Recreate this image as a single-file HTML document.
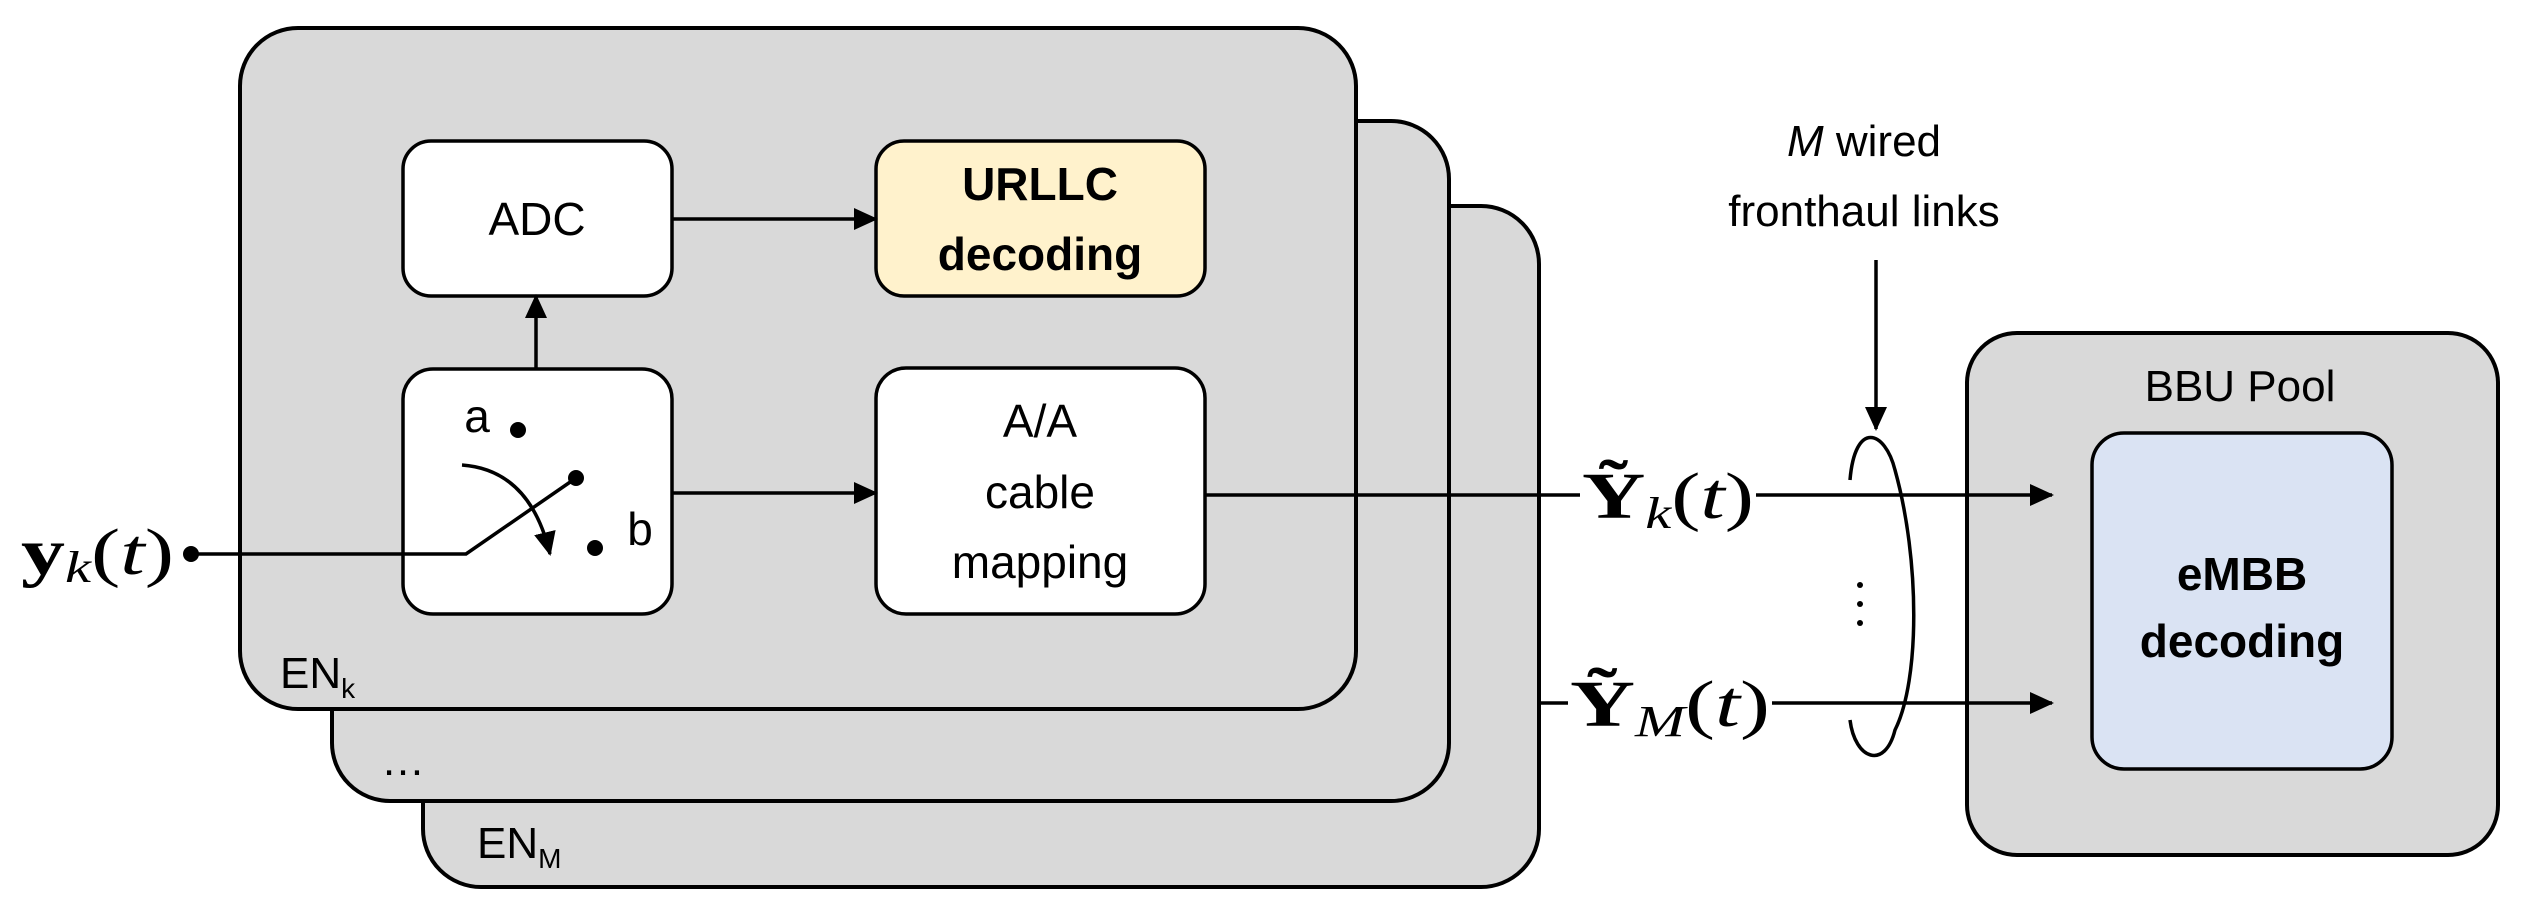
<!DOCTYPE html>
<html><head><meta charset="utf-8"><style>body{margin:0;background:#fff}svg{display:block}</style></head><body>
<svg width="2528" height="915" viewBox="0 0 2528 915" xmlns="http://www.w3.org/2000/svg" font-family="Liberation Sans, sans-serif">
<defs>
<marker id="a2" markerWidth="24" markerHeight="22" refX="22" refY="11" orient="auto" markerUnits="userSpaceOnUse"><path d="M0,0 L24,11 L0,22 z" fill="#000"/></marker></defs>
<g stroke="#000" stroke-width="4" fill="#d9d9d9">
<rect x="423" y="206" width="1116" height="681" rx="58"/>
<rect x="332" y="121" width="1117" height="680" rx="58"/>
<rect x="240" y="28" width="1116" height="681" rx="58"/>
<rect x="1967" y="333" width="531" height="522" rx="50"/>
</g>
<g stroke="#000" stroke-width="3.5">
<rect x="403" y="141" width="269" height="155" rx="28" fill="#fff"/>
<rect x="876" y="141" width="329" height="155" rx="28" fill="#fff2cc"/>
<rect x="403" y="369" width="269" height="245" rx="30" fill="#fff"/>
<rect x="876" y="368" width="329" height="246" rx="30" fill="#fff"/>
<rect x="2092" y="433" width="300" height="336" rx="32" fill="#dae3f3"/>
</g>
<g stroke="#000" stroke-width="3.5" fill="none">
<line x1="672" y1="219" x2="876" y2="219" marker-end="url(#a2)"/>
<line x1="672" y1="493" x2="876" y2="493" marker-end="url(#a2)"/>
<line x1="536" y1="369" x2="536" y2="296" marker-end="url(#a2)"/>
<polyline points="191,554 466,554 576,478"/>
<path d="M462,465 Q530,470 550,554" marker-end="url(#a2)"/>
<line x1="1205" y1="495" x2="1580" y2="495"/>
<line x1="1756" y1="495" x2="2052" y2="495" marker-end="url(#a2)"/>
<line x1="1539" y1="703" x2="1568" y2="703"/>
<line x1="1772" y1="703" x2="2052" y2="703" marker-end="url(#a2)"/>
<line x1="1876" y1="260" x2="1876" y2="429" marker-end="url(#a2)"/>
<path d="M1850,480 C1855,420 1885,430 1895,470 C1920,560 1920,680 1895,730 C1885,770 1855,760 1850,720"/>
</g>
<g fill="#000">
<circle cx="191" cy="554" r="8"/><circle cx="518" cy="430" r="8"/><circle cx="576" cy="478" r="8"/><circle cx="595" cy="548" r="8"/>
<circle cx="1860" cy="585" r="3"/><circle cx="1860" cy="604" r="3"/><circle cx="1860" cy="623" r="3"/>
</g>
<g font-size="46" text-anchor="middle" fill="#000">
<text x="537" y="235">ADC</text>
<text x="1040" y="200" font-weight="bold">URLLC</text>
<text x="1040" y="270" font-weight="bold">decoding</text>
<text x="1040" y="437">A/A</text>
<text x="1040" y="508">cable</text>
<text x="1040" y="578">mapping</text>
<text x="477" y="432">a</text>
<text x="640" y="545">b</text>
<text x="2240" y="401" font-size="44">BBU Pool</text>
<text x="2242" y="590" font-weight="bold">eMBB</text>
<text x="2242" y="657" font-weight="bold">decoding</text>
<text x="1864" y="156" font-size="44"><tspan font-style="italic">M</tspan> wired</text>
<text x="1864" y="226" font-size="44">fronthaul links</text>
</g>
<g font-size="44" fill="#000">
<text x="280" y="688">EN<tspan font-size="28" dy="10">k</tspan></text>
<text x="381" y="775">…</text>
<text x="477" y="858">EN<tspan font-size="28" dy="10">M</tspan></text>
</g>
<g font-family="Liberation Serif, serif" font-size="66" fill="#000">
<text x="21" y="574" textLength="153" lengthAdjust="spacingAndGlyphs"><tspan font-weight="bold">y</tspan><tspan font-style="italic" font-size="44" dy="8">k</tspan><tspan dy="-8">(</tspan><tspan font-style="italic">t</tspan>)</text>
<text x="1582" y="518" textLength="172" lengthAdjust="spacingAndGlyphs"><tspan font-weight="bold">Ỹ</tspan><tspan font-style="italic" font-size="44" dy="10">k</tspan><tspan dy="-10">(</tspan><tspan font-style="italic">t</tspan>)</text>
<text x="1570" y="726" textLength="200" lengthAdjust="spacingAndGlyphs"><tspan font-weight="bold">Ỹ</tspan><tspan font-style="italic" font-size="44" dy="10">M</tspan><tspan dy="-10">(</tspan><tspan font-style="italic">t</tspan>)</text>
</g>
</svg>
</body></html>
